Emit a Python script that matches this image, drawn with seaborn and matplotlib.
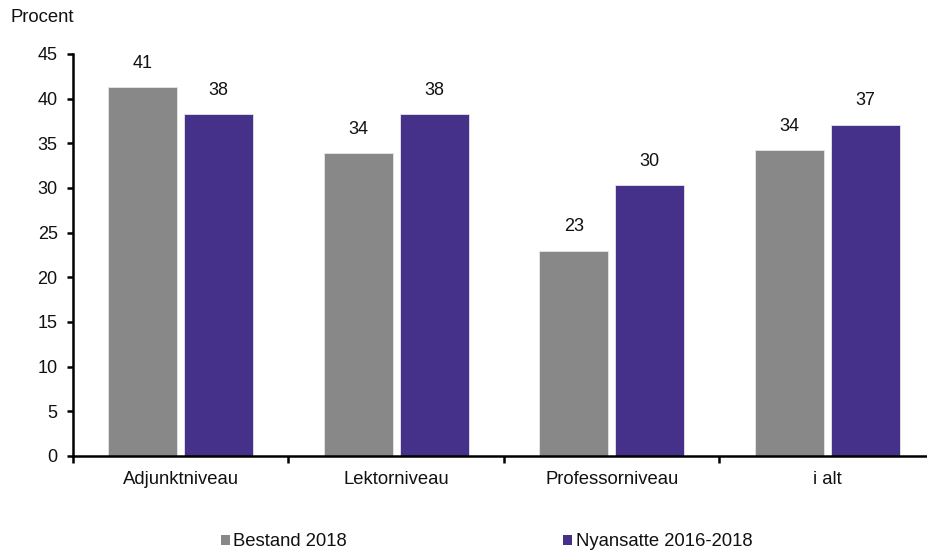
import matplotlib
matplotlib.use("Agg")
import matplotlib.pyplot as plt
from matplotlib.patches import Patch
import seaborn as sns
import pandas as pd

# Andel kvinder pr. stillingsniveau
categories = ["Adjunktniveau", "Lektorniveau", "Professorniveau", "i alt"]
series_names = ["Bestand 2018", "Nyansatte 2016-2018"]
bestand = [41.3, 33.9, 23.0, 34.2]
nyansatte = [38.3, 38.3, 30.3, 37.1]
yticks = [0, 5, 10, 15, 20, 25, 30, 35, 40, 45]
colors = ["#888888", "#46318A"]

df = pd.DataFrame({
    "Niveau": categories * 2,
    "Gruppe": [series_names[0]] * 4 + [series_names[1]] * 4,
    "Procent": bestand + nyansatte,
})

sns.set_theme(style="white")
plt.rcParams["font.family"] = ["Liberation Sans", "DejaVu Sans"]

W, H = 928, 552
fig = plt.figure(figsize=(W / 100, H / 100), dpi=100)
left, right, bottom, top = 73, 928, 456, 54
ax = fig.add_axes([left / W, 1 - bottom / H, (right - left) / W, (bottom - top) / H])

sns.barplot(data=df, x="Niveau", y="Procent", hue="Gruppe", order=categories,
            hue_order=series_names, palette=colors, saturation=1,
            width=0.706, gap=0.094, edgecolor="#e6e6e6", linewidth=0.6,
            ax=ax, legend=False)

for cont in ax.containers:
    ax.bar_label(cont, labels=[f"{v:.0f}" for v in cont.datavalues],
                 padding=11, fontsize=13, color="#111111")

ax.set_ylim(0, 45)
ax.set_yticks(yticks)
ax.set_xlim(-0.5, -0.5 + (right - left) / 215.5)
ax.set_xlabel("")
ax.set_ylabel("")

for s in ["top", "right"]:
    ax.spines[s].set_visible(False)
for s in ["left", "bottom"]:
    ax.spines[s].set_color("black")
    ax.spines[s].set_linewidth(1.8)

ax.tick_params(axis="y", which="major", direction="out", length=4, width=1.8,
               pad=7, labelsize=13, left=True, colors="black")
ax.tick_params(axis="x", which="major", length=0, pad=11, labelsize=13.3,
               colors="black")
# Kategorigrænser som små streger under aksen
ax.set_xticks([-0.5, 0.5, 1.5, 2.5], minor=True)
ax.tick_params(axis="x", which="minor", direction="out", length=5, width=1.8,
               bottom=True, color="black")
for lbl in ax.get_xticklabels() + ax.get_yticklabels():
    lbl.set_color("#111111")

fig.text(10 / W, 1 - 18 / H, "Procent", fontsize=13.3, va="center", ha="left",
         color="#111111")

handles = [Patch(facecolor=c, edgecolor="none") for c in colors]
fig.legend(handles, series_names, loc="center left",
           bbox_to_anchor=(221 / W, 1 - 542 / H), ncol=2, frameon=False,
           handlelength=0.5, handleheight=0.5, handletextpad=0.17,
           columnspacing=11.7, borderpad=0, borderaxespad=0, fontsize=13.3,
           labelcolor="#111111")

fig.savefig("out.png", dpi=100)
